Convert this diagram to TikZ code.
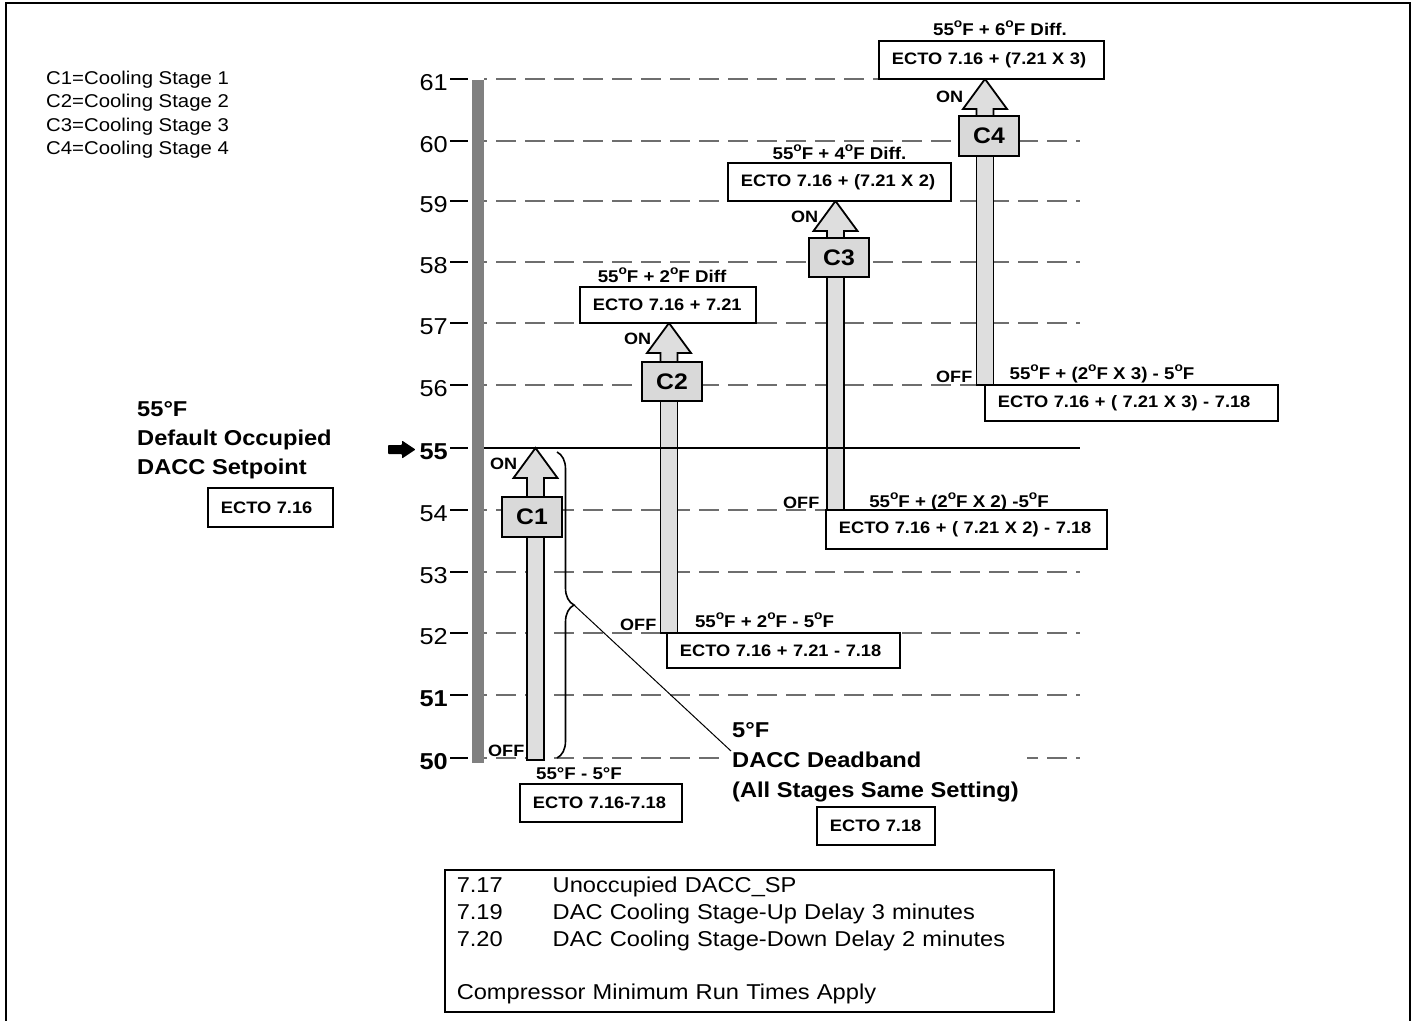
\documentclass[tikz,border=0pt]{standalone}
\usepackage{fontspec}
\setmainfont{Liberation Sans}[FakeStretch=1.1]
\usetikzlibrary{decorations.pathreplacing}
\definecolor{shaftgray}{HTML}{DEDEDE}
\definecolor{stagegray}{HTML}{D9D9D9}
\definecolor{bargray}{HTML}{808080}
\definecolor{dashgray}{HTML}{6E6E6E}
\newcommand\dg{\raisebox{7.6pt}{\fontsize{12.5}{12}\selectfont o}}
% #1 shaft x, #2 shaft bottom y, #3 box centre y, #4 tip y
\newcommand\mkshaft[4]{%
  \draw[shaft] (#1-8.5,#2) rectangle (#1+8.5,#3);
  \draw[shaft] (#1-8.5,#3) -- (#1-8.5,#4+30) -- (#1-22,#4+30) -- (#1,#4)
     -- (#1+22,#4+30) -- (#1+8.5,#4+30) -- (#1+8.5,#3) -- cycle;}
\begin{document}
\begin{tikzpicture}[x=1pt,y=-1pt,
  frame/.style={line width=2.5pt},
  gridline/.style={draw=dashgray,line width=1.3pt,dash pattern=on 20pt off 9pt,dash phase=17pt},
  tickmark/.style={line width=2.6pt},
  axlbl/.style={font=\fontsize{23}{26}\selectfont,anchor=base east,inner sep=0pt},
  axlblb/.style={axlbl,font=\fontsize{23}{26}\selectfont\bfseries},
  shaft/.style={draw,line width=1.8pt,fill=shaftgray},
  stagebox/.style={draw,line width=1.8pt,fill=stagegray,minimum width=60pt,minimum height=40pt,inner sep=0pt,font=\fontsize{22.5}{26}\selectfont\bfseries},
  ectobox/.style={draw,line width=1.8pt,fill=white,font=\fontsize{16.6}{19}\selectfont\bfseries,inner xsep=13pt,inner ysep=0pt,align=left,anchor=west},
  lbl/.style={fill=white,inner xsep=7pt,inner ysep=3pt,font=\fontsize{17}{20}\selectfont\bfseries,anchor=base},
  onoff/.style={font=\fontsize{16.4}{19}\selectfont\bfseries,inner sep=0pt,anchor=base west},
  legend/.style={font=\fontsize{18.5}{22}\selectfont,inner sep=0pt,anchor=base west},
  bigbold/.style={font=\fontsize{21.5}{29}\selectfont\bfseries},
  thin/.style={line width=1pt}]
\useasboundingbox (0,0) rectangle (1416,1020);
% frame
\draw[frame] (6,1060) -- (6,3) -- (1410,3) -- (1410,1060);
% legend
\node[legend] (lg1) at (46,84.5) {C1=Cooling Stage 1};
\node[legend] (lg2) at (46,107.8) {C2=Cooling Stage 2};
\node[legend] (lg3) at (46,131) {C3=Cooling Stage 3};
\node[legend] (lg4) at (46,154.3) {C4=Cooling Stage 4};
% axis bar
\fill[bargray] (472,80) rectangle (484,763);
% ticks and labels
\foreach \t/\y in {61/79,60/141,59/201,58/262,57/323,56/385,54/510,53/572,52/633}{
  \draw[tickmark] (450,\y) -- (468,\y);
  \node[axlbl] (ax\t) at (448,\y+11.5) {\t};}
\foreach \t/\y in {55/448,51/695,50/758}{
  \draw[tickmark] (450,\y) -- (468,\y);
  \node[axlblb] (ax\t) at (448,\y+11.5) {\t};}
% dashed grid
\foreach \y in {79,141,201,262,323,385,510,572,633,695,758}{
  \draw[gridline] (484,\y) -- (1080,\y);}
% pointer arrow
\fill[rounded corners=0.8pt] (388,445) -- (402,445) -- (402,440.5) -- (415.5,449.5) -- (402,458.5) -- (402,454) -- (388,454) -- cycle;
% left label
\node[bigbold,anchor=base west,inner sep=0pt] (setp) at (137,416)
  {\begin{tabular}[t]{@{}l@{}}55°F\\Default Occupied\\DACC Setpoint\end{tabular}};
% shafts and heads
\mkshaft{535.5}{760}{517}{448}
\mkshaft{669}{633}{381.5}{323}
\mkshaft{835.5}{510}{257.5}{201}
\mkshaft{985}{385}{136}{79}
% setpoint line
\draw[line width=2pt] (484,448) -- (1080,448);
% labels
\node[lbl] (l2on) at (662,282) {55\dg F + 2\dg F Diff};
\node[lbl] (l3on) at (839.5,159) {55\dg F + 4\dg F Diff.};
\node[lbl] (l4on) at (1000,35) {55\dg F + 6\dg F Diff.};
\node[lbl] (l2off) at (764.5,627) {55\dg F + 2\dg F - 5\dg F};
\node[lbl] (l3off) at (959,507) {55\dg F + (2\dg F X 2) -5\dg F};
\node[lbl] (l4off) at (1102,379) {55\dg F + (2\dg F X 3) - 5\dg F};
\node[lbl,fill=none] (l1off) at (579,779) {55°F - 5°F};
% deadband text
\node[bigbold,fill=white,anchor=base west,inner xsep=8pt,inner ysep=3pt,font=\fontsize{21.5}{30}\selectfont\bfseries] (db) at (724,737)
  {\begin{tabular}[t]{@{}l@{}}5°F\\DACC Deadband\\(All Stages Same Setting)\end{tabular}};
% ECTO boxes
\node[ectobox,text width=99pt,minimum height=39pt] (e716) at (207,507.5) {ECTO 7.16};
\node[ectobox,text width=136pt,minimum height=38pt] (e1) at (519,803) {ECTO 7.16-7.18};
\node[ectobox,text width=92pt,minimum height=38pt] (e718) at (816,826) {ECTO 7.18};
\node[ectobox,text width=150pt,minimum height=36pt] (e2on) at (579,305) {ECTO 7.16 + 7.21};
\node[ectobox,text width=207pt,minimum height=35pt] (e2off) at (666,650.5) {ECTO 7.16 + 7.21 - 7.18};
\node[ectobox,text width=197pt,minimum height=38pt] (e3on) at (727,182) {ECTO 7.16 + (7.21 X 2)};
\node[ectobox,text width=255pt,minimum height=39pt] (e3off) at (825,529.5) {ECTO 7.16 + ( 7.21 X 2) - 7.18};
\node[ectobox,text width=199pt,minimum height=38pt] (e4on) at (878,60) {ECTO 7.16 + (7.21 X 3)};
\node[ectobox,text width=267pt,minimum height=36pt] (e4off) at (984,403) {ECTO 7.16 + ( 7.21 X 3) - 7.18};
% stage boxes
\node[stagebox] (c1) at (532,517) {C1};
\node[stagebox,minimum height=39pt] (c2) at (672,381.5) {C2};
\node[stagebox,minimum height=39pt] (c3) at (839,257.5) {C3};
\node[stagebox] (c4) at (989,136) {C4};
% ON / OFF
\node[onoff] (on1) at (490,469) {ON};
\node[onoff] (off1) at (488,756) {OFF};
\node[onoff] (on2) at (624,344) {ON};
\node[onoff] (off2) at (620,630) {OFF};
\node[onoff] (on3) at (791,222) {ON};
\node[onoff] (off3) at (783,508) {OFF};
\node[onoff] (on4) at (936,102) {ON};
\node[onoff] (off4) at (936,382) {OFF};
% deadband brace and leader
\draw[line width=1.6pt,decorate,decoration={brace,amplitude=17pt}] (557,452) -- (557,758);
\coordinate (bracetip) at (574,605);
\coordinate (dbend) at (731,751);
\draw[thin] (bracetip) -- (dbend);
% notes box
\node[draw,line width=1.5pt,anchor=north west,text width=585pt,inner xsep=12pt,inner ysep=0pt,minimum height=142pt,align=left,font=\fontsize{21.5}{26.75}\selectfont] (notes) at (444,869)
  {\makebox[96pt][l]{7.17}Unoccupied DACC\_SP\\
   \makebox[96pt][l]{7.19}DAC Cooling Stage-Up Delay 3 minutes\\
   \makebox[96pt][l]{7.20}DAC Cooling Stage-Down Delay 2 minutes\\[26.75pt]
   Compressor Minimum Run Times Apply};
\end{tikzpicture}
\end{document}
